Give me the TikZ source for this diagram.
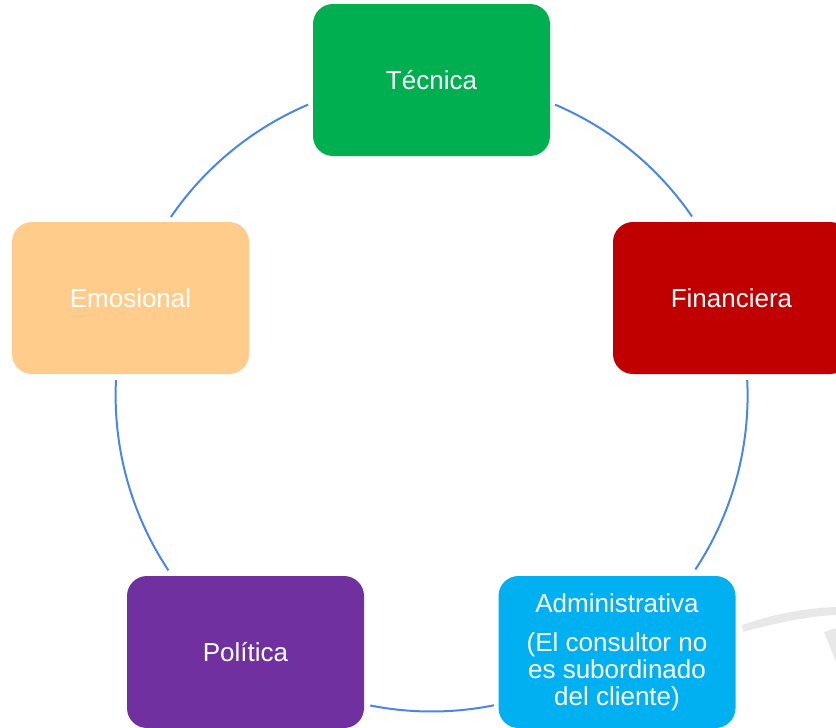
\documentclass[tikz,border=0pt]{standalone}
\usepackage{fontspec}
\setmainfont{Liberation Sans}
\usetikzlibrary{calc}
\definecolor{cTec}{HTML}{00B050}
\definecolor{cFin}{HTML}{C00000}
\definecolor{cEmo}{HTML}{FFCC8C}
\definecolor{cPol}{HTML}{7030A0}
\definecolor{cAdm}{HTML}{00B0F0}
\definecolor{cArc}{HTML}{4A86E8}
\definecolor{cWm}{HTML}{E8E8E8}
\tikzset{
  box/.style={rectangle, rounded corners=15pt, minimum width=177.75pt, minimum height=114pt,
    inner sep=0pt, text=white, align=center, font=\fontsize{19.5pt}{20.25pt}\selectfont},
  conn/.style={draw=cArc, line width=1.5pt},
}
\begin{document}
\begin{tikzpicture}[x=0.75pt,y=-0.75pt]
\clip (0,0) rectangle (836,728);
\useasboundingbox (0,0) rectangle (836,728);
% faint watermark
\fill[cWm] (742,625) .. controls (780,612) and (810,608) .. (836,607) -- (836,615)
  .. controls (810,616) and (780,622) .. (743,632) -- cycle;
\fill[cWm] (824,632) -- (836,628) -- (836,662) -- cycle;
\coordinate (ctr) at (431.6,395.5);
% connectors (arcs of the cycle)
\draw[conn] (ctr) ++(-113:316) arc[start angle=-113, end angle=-145.6, radius=316];
\draw[conn] (ctr) ++(182.8:316) arc[start angle=182.8, end angle=146.4, radius=316];
\draw[conn] (ctr) ++(101.2:316) arc[start angle=101.2, end angle=78.6, radius=316];
\draw[conn] (ctr) ++(33.4:316) arc[start angle=33.4, end angle=-2.8, radius=316];
\draw[conn] (ctr) ++(-34.5:316) arc[start angle=-34.5, end angle=-67, radius=316];
% boxes
\node[box, fill=cTec] (tec) at (431.5,80) {Técnica};
\node[box, fill=cFin] (fin) at (731.5,298) {Financiera};
\node[box, fill=cEmo] (emo) at (130.5,298) {Emosional};
\node[box, fill=cPol] (pol) at (245.5,652) {Política};
\node[box, fill=cAdm] (adm) at (617,652) {Administrativa\\[9pt](El consultor no\\es subordinado\\del cliente)};
\end{tikzpicture}
\end{document}
